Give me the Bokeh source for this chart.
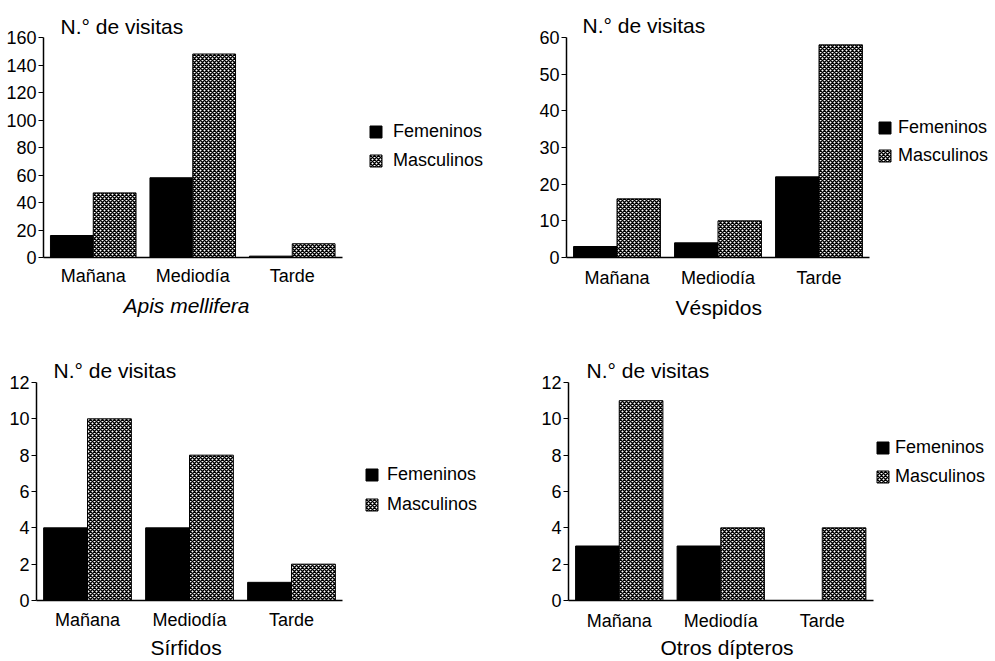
from bokeh.plotting import figure
from bokeh.models import Range1d, FixedTicker, Legend, LegendItem, ColumnDataSource, Title
from bokeh.transform import dodge
from bokeh.layouts import row, column
from bokeh.embed import file_html
from bokeh.resources import INLINE

# ---------------- data ----------------
categories = ["Mañana", "Mediodía", "Tarde"]
series_names = ["Femeninos", "Masculinos"]
y_title = "N.° de visitas"

apis_fem = [16, 58, 1]
apis_masc = [47, 148, 10]
vesp_fem = [3, 4, 22]
vesp_masc = [16, 10, 58]
sirf_fem = [4, 4, 1]
sirf_masc = [10, 8, 2]
otros_fem = [3, 3, 0]
otros_masc = [11, 4, 4]

panel_titles = ["Apis mellifera", "Véspidos", "Sírfidos", "Otros dípteros"]
ticks_apis = [0, 20, 40, 60, 80, 100, 120, 140, 160]
ticks_vesp = [0, 10, 20, 30, 40, 50, 60]
ticks_sirf = [0, 2, 4, 6, 8, 10, 12]
ticks_otros = [0, 2, 4, 6, 8, 10, 12]

# ---------------- style / layout ----------------
FONT = "Liberation Sans"
BAR_W = 0.43
OFF = 0.215

layouts = [
    dict(w=498, h=333, bl=43, bt=35, bb=76, br=8, cat_px=99.5, toff=17, tst=0,
         leg=(325, 86), sp=8, lst=10, s1=8, sub_off=80, sub_st=7, italic=True),
    dict(w=496, h=333, bl=68, bt=37, bb=73, br=2, cat_px=101, toff=16, tst=1,
         leg=(311, 91), sp=7, lst=6, s1=10, sub_off=109, sub_st=7, italic=False),
    dict(w=498, h=327, bl=36, bt=47, bb=60, br=8, cat_px=102, toff=17, tst=1,
         leg=(328, 85), sp=9, lst=8, s1=9, sub_off=114, sub_st=2, italic=False),
    dict(w=496, h=327, bl=70, bt=49, bb=58, br=2, cat_px=101.5, toff=18, tst=1,
         leg=(307, 113), sp=8, lst=5, s1=10, sub_off=92, sub_st=1, italic=False),
]


def make_panel(fem, masc, ticks, subtitle, lay):
    xs = [i + 0.5 for i in range(len(categories))]
    src = ColumnDataSource(dict(x=xs, fem=fem, masc=masc))
    frame_w = lay["w"] - lay["bl"] - lay["br"]
    p = figure(x_range=Range1d(0, frame_w / lay["cat_px"]), y_range=Range1d(ticks[0], ticks[-1]),
               width=lay["w"], height=lay["h"],
               min_border_left=lay["bl"], min_border_right=lay["br"],
               min_border_top=lay["bt"], min_border_bottom=lay["bb"],
               output_backend="svg", toolbar_location=None, title=y_title)
    r1 = p.vbar(x=dodge("x", -OFF), top="fem", width=BAR_W, source=src,
                fill_color="black", line_color="black", line_width=1)
    r2 = p.vbar(x=dodge("x", OFF), top="masc", width=BAR_W, source=src,
                fill_color="white", line_color="black", line_width=1,
                hatch_pattern="diagonal_cross", hatch_color="black",
                hatch_scale=4, hatch_weight=1.5)

    p.grid.visible = False
    p.outline_line_color = None
    p.background_fill_color = "white"
    p.border_fill_color = "white"

    p.title.align = "left"
    p.title.offset = lay["toff"]
    p.title.text_font = FONT
    p.title.text_font_size = "21px"
    p.title.text_font_style = "normal"
    p.title.text_color = "black"
    p.title.standoff = lay["tst"]

    yax = p.yaxis[0]
    yax.ticker = FixedTicker(ticks=ticks, minor_ticks=[])
    yax.major_tick_out = 5
    yax.major_tick_in = 0
    yax.major_label_standoff = 2
    yax.axis_line_width = 1.5
    yax.major_tick_line_width = 1.2
    yax.major_label_text_font = FONT
    yax.major_label_text_font_size = "18px"
    yax.major_label_text_color = "black"

    xax = p.xaxis[0]
    xax.ticker = FixedTicker(ticks=xs, minor_ticks=[])
    xax.major_label_overrides = {x: c for x, c in zip(xs, categories)}
    xax.bounds = (0, len(categories))
    xax.major_tick_out = 0
    xax.major_tick_in = 0
    xax.minor_tick_out = 0
    xax.axis_line_width = 1.5
    xax.major_label_standoff = lay["s1"]
    xax.major_label_text_font = FONT
    xax.major_label_text_font_size = "18px"
    xax.major_label_text_line_height = 1.0
    xax.major_label_text_color = "black"

    sub = Title(text=subtitle, align="left", offset=lay["sub_off"], standoff=lay["sub_st"],
                text_font=FONT, text_font_size="21px", text_line_height=0.8,
                text_font_style="italic" if lay["italic"] else "normal",
                text_color="black")
    p.add_layout(sub, "below")

    legend = Legend(items=[LegendItem(label=series_names[0], renderers=[r1]),
                           LegendItem(label=series_names[1], renderers=[r2])],
                    location=lay["leg"], orientation="vertical",
                    glyph_width=15, glyph_height=15, label_standoff=lay["lst"],
                    label_text_font=FONT, label_text_font_size="18px",
                    label_text_color="black",
                    spacing=lay["sp"], padding=0, margin=0,
                    border_line_color=None, background_fill_alpha=0)
    p.add_layout(legend)
    return p


p1 = make_panel(apis_fem, apis_masc, ticks_apis, panel_titles[0], layouts[0])
p2 = make_panel(vesp_fem, vesp_masc, ticks_vesp, panel_titles[1], layouts[1])
p3 = make_panel(sirf_fem, sirf_masc, ticks_sirf, panel_titles[2], layouts[2])
p4 = make_panel(otros_fem, otros_masc, ticks_otros, panel_titles[3], layouts[3])

page = column(row(p1, p2, spacing=0), row(p3, p4, spacing=0), spacing=0)

open("out.html", "w").write(file_html(page, INLINE))
